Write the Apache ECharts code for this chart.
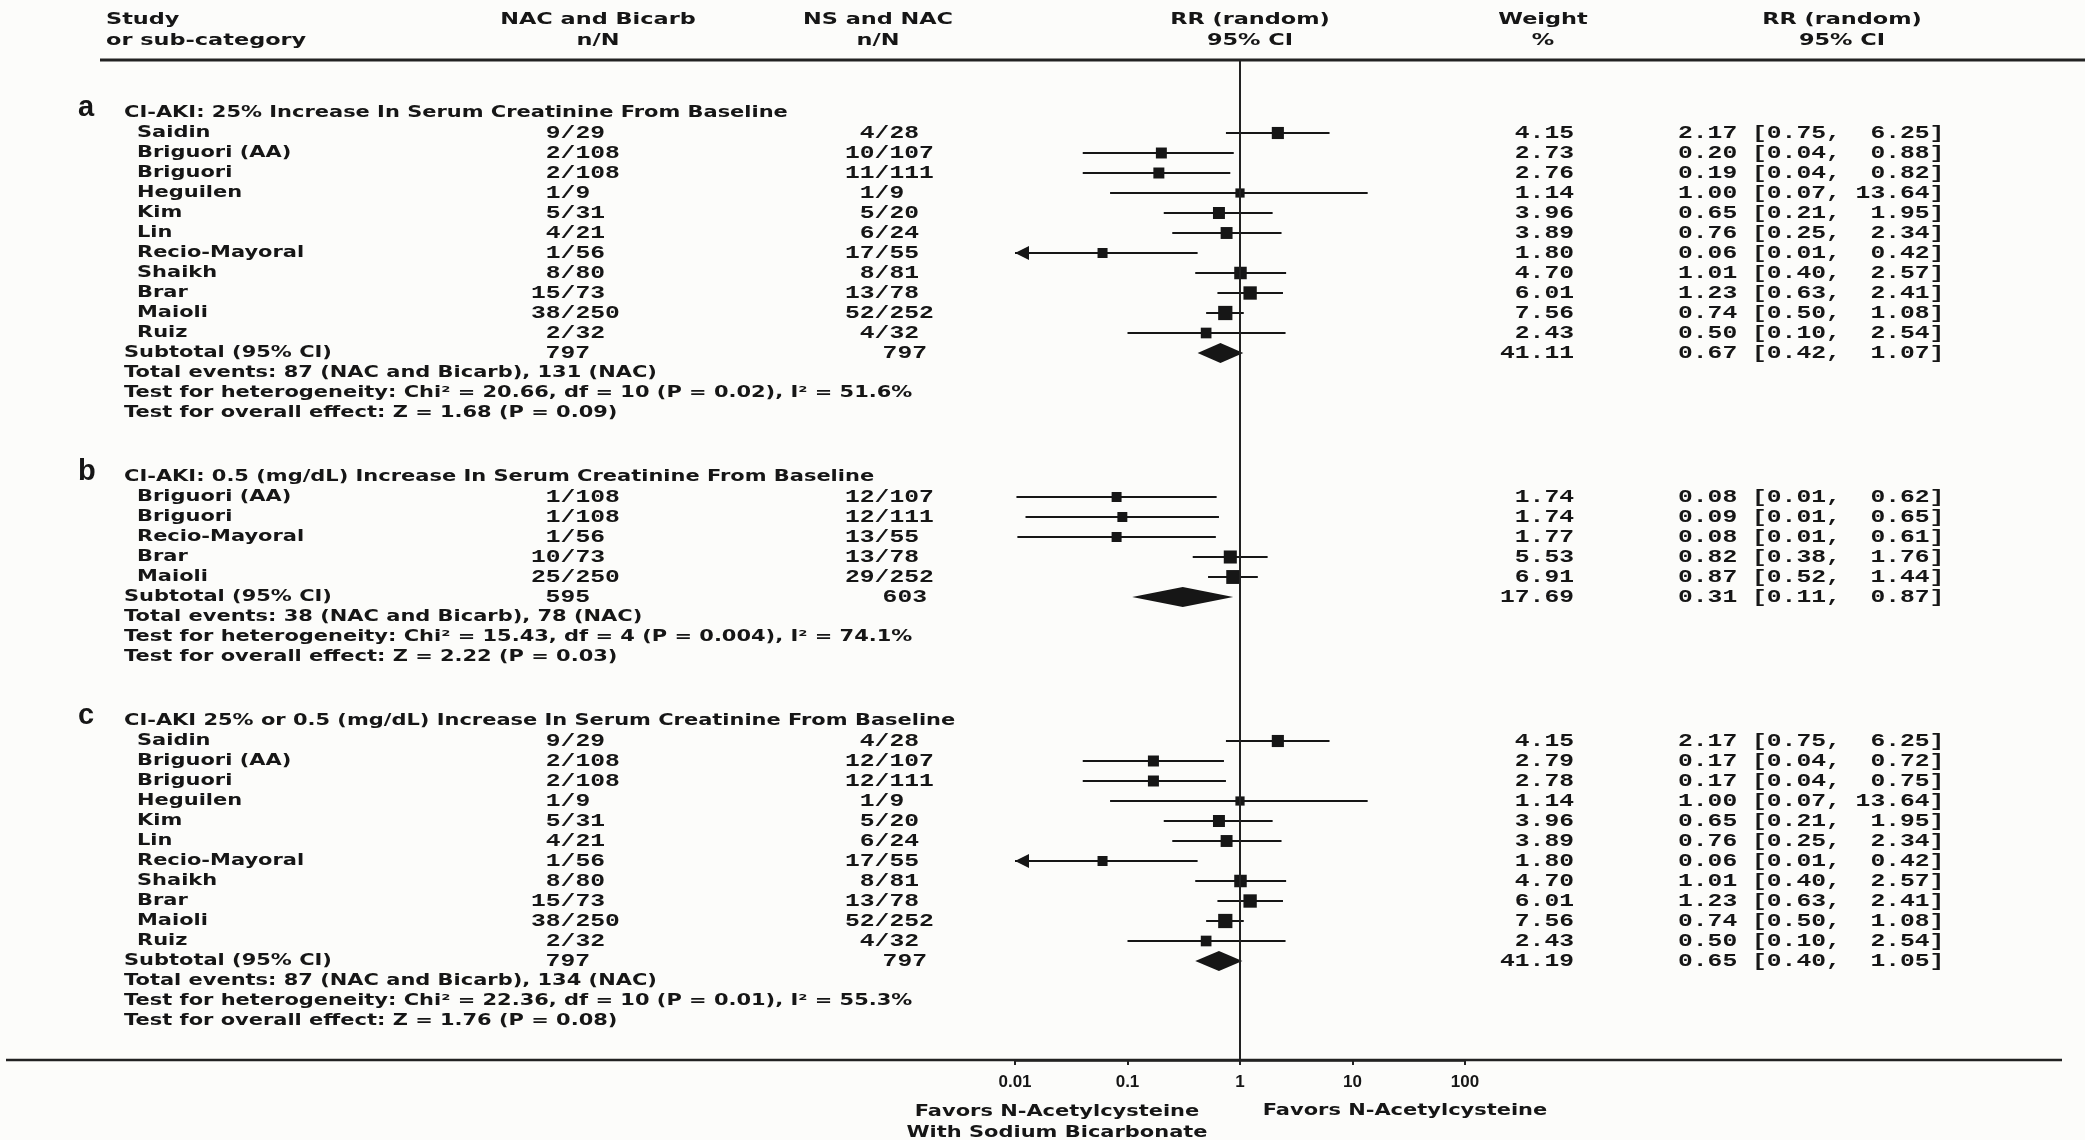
<!DOCTYPE html>
<html>
<head>
<meta charset="utf-8">
<script src="https://cdn.jsdelivr.net/npm/echarts@6/dist/echarts.min.js"></script>
<style>
  html, body { margin: 0; background: #fcfcfa; }
  #chart { width: 2085px; height: 1140px; }
</style>
</head>
<body>
<div id="chart"></div>
<script>
// ---- data ----
const studiesA = ['Saidin', 'Briguori (AA)', 'Briguori', 'Heguilen', 'Kim', 'Lin', 'Recio-Mayoral', 'Shaikh', 'Brar', 'Maioli', 'Ruiz'];
const bicarbA = ['9/29', '2/108', '2/108', '1/9', '5/31', '4/21', '1/56', '8/80', '15/73', '38/250', '2/32'];
const nsA = ['4/28', '10/107', '11/111', '1/9', '5/20', '6/24', '17/55', '8/81', '13/78', '52/252', '4/32'];
const weightA = [4.15, 2.73, 2.76, 1.14, 3.96, 3.89, 1.80, 4.70, 6.01, 7.56, 2.43];
const rrA = [2.17, 0.20, 0.19, 1.00, 0.65, 0.76, 0.06, 1.01, 1.23, 0.74, 0.50];
const loA = [0.75, 0.04, 0.04, 0.07, 0.21, 0.25, 0.0086, 0.40, 0.63, 0.50, 0.10];
const hiA = [6.25, 0.88, 0.82, 13.64, 1.95, 2.34, 0.42, 2.57, 2.41, 1.08, 2.54];
const subtotalA = { bicarb: '797', ns: '797', weight: 41.11, rr: 0.67, lo: 0.42, hi: 1.07 };
const notesA = [
  'Total events: 87 (NAC and Bicarb), 131 (NAC)',
  'Test for heterogeneity: Chi\u00b2 = 20.66, df = 10 (P = 0.02), I\u00b2 = 51.6%',
  'Test for overall effect: Z = 1.68 (P = 0.09)'
];

const studiesB = ['Briguori (AA)', 'Briguori', 'Recio-Mayoral', 'Brar', 'Maioli'];
const bicarbB = ['1/108', '1/108', '1/56', '10/73', '25/250'];
const nsB = ['12/107', '12/111', '13/55', '13/78', '29/252'];
const weightB = [1.74, 1.74, 1.77, 5.53, 6.91];
const rrB = [0.08, 0.09, 0.08, 0.82, 0.87];
const loB = [0.0103, 0.0124, 0.0105, 0.38, 0.52];
const hiB = [0.62, 0.65, 0.61, 1.76, 1.44];
const subtotalB = { bicarb: '595', ns: '603', weight: 17.69, rr: 0.31, lo: 0.11, hi: 0.87 };
const notesB = [
  'Total events: 38 (NAC and Bicarb), 78 (NAC)',
  'Test for heterogeneity: Chi\u00b2 = 15.43, df = 4 (P = 0.004), I\u00b2 = 74.1%',
  'Test for overall effect: Z = 2.22 (P = 0.03)'
];

const studiesC = ['Saidin', 'Briguori (AA)', 'Briguori', 'Heguilen', 'Kim', 'Lin', 'Recio-Mayoral', 'Shaikh', 'Brar', 'Maioli', 'Ruiz'];
const bicarbC = ['9/29', '2/108', '2/108', '1/9', '5/31', '4/21', '1/56', '8/80', '15/73', '38/250', '2/32'];
const nsC = ['4/28', '12/107', '12/111', '1/9', '5/20', '6/24', '17/55', '8/81', '13/78', '52/252', '4/32'];
const weightC = [4.15, 2.79, 2.78, 1.14, 3.96, 3.89, 1.80, 4.70, 6.01, 7.56, 2.43];
const rrC = [2.17, 0.17, 0.17, 1.00, 0.65, 0.76, 0.06, 1.01, 1.23, 0.74, 0.50];
const loC = [0.75, 0.04, 0.04, 0.07, 0.21, 0.25, 0.0086, 0.40, 0.63, 0.50, 0.10];
const hiC = [6.25, 0.72, 0.75, 13.64, 1.95, 2.34, 0.42, 2.57, 2.41, 1.08, 2.54];
const subtotalC = { bicarb: '797', ns: '797', weight: 41.19, rr: 0.65, lo: 0.40, hi: 1.05 };
const notesC = [
  'Total events: 87 (NAC and Bicarb), 134 (NAC)',
  'Test for heterogeneity: Chi\u00b2 = 22.36, df = 10 (P = 0.01), I\u00b2 = 55.3%',
  'Test for overall effect: Z = 1.76 (P = 0.08)'
];

const sectionLetters = ['a', 'b', 'c'];
const sectionTitles = [
  'CI-AKI: 25% Increase In Serum Creatinine From Baseline',
  'CI-AKI: 0.5 (mg/dL) Increase In Serum Creatinine From Baseline',
  'CI-AKI 25% or 0.5 (mg/dL) Increase In Serum Creatinine From Baseline'
];
const favorsLeft = 'Favors N-Acetylcysteine\nWith Sodium Bicarbonate';
const favorsRight = 'Favors N-Acetylcysteine';

// ---- layout ----
const SANS = '"DejaVu Sans", Verdana, sans-serif';
const TICK_FONT = '"Liberation Sans", Arial, sans-serif';
const MONO = '"Liberation Mono", "Courier New", monospace';
const INK = '#161616';
const FS = 16;
const SX_SANS = 1.31;
const SX_HEAD = 1.4;
const MONO_FS = 18;
const SX_MONO = 1.37;
const MONO_CHAR = 0.6 * MONO_FS * SX_MONO;
const sectionStart = [0, 18.2, 30.4];
const COL = {
  letter: 78, title: 124, study: 137,
  bicarbSlash: 568, nsSlash: 882, bicarbTotal: 590, nsTotal: 927,
  weightRight: 1574, rrLeft: 1678
};

const sections = [
  { studies: studiesA, bicarb: bicarbA, ns: nsA, weight: weightA, rr: rrA, lo: loA, hi: hiA, sub: subtotalA, notes: notesA },
  { studies: studiesB, bicarb: bicarbB, ns: nsB, weight: weightB, rr: rrB, lo: loB, hi: hiB, sub: subtotalB, notes: notesB },
  { studies: studiesC, bicarb: bicarbC, ns: nsC, weight: weightC, rr: rrC, lo: loC, hi: hiC, sub: subtotalC, notes: notesC }
];

const rows = [];
sections.forEach((s, si) => {
  let r = sectionStart[si];
  rows.push({ r, kind: 'title', letter: sectionLetters[si], text: sectionTitles[si] });
  s.studies.forEach((name, i) => {
    r += 1;
    rows.push({ r, kind: 'study', name, bicarb: s.bicarb[i], ns: s.ns[i],
      weight: s.weight[i], rr: s.rr[i], lo: s.lo[i], hi: s.hi[i] });
  });
  r += 1;
  rows.push(Object.assign({ r, kind: 'subtotal', name: 'Subtotal (95% CI)' }, s.sub));
  s.notes.forEach(t => { r += 1; rows.push({ r, kind: 'note', text: t }); });
});

function sansText(x, y, text, align, sx) {
  return {
    type: 'text', x, y, scaleX: sx || SX_SANS,
    style: { text, fill: INK, fontFamily: SANS, fontWeight: 'bold', fontSize: FS,
      textAlign: align || 'left', textVerticalAlign: 'middle' }
  };
}
function monoText(x, y, text, align) {
  return {
    type: 'text', x, y, scaleX: SX_MONO,
    style: { text, fill: INK, fontFamily: MONO, fontWeight: 'bold', fontSize: MONO_FS,
      textAlign: align || 'left', textVerticalAlign: 'middle' }
  };
}
function nOverN(slashX, y, s) {
  const [a, b] = s.split('/');
  const x0 = slashX - MONO_CHAR / 2;
  return [monoText(x0, y, a, 'right'), monoText(x0, y, '/' + b, 'left')];
}
function rrLabel(row) {
  return row.rr.toFixed(2) + ' [' + row.lo.toFixed(2) + ', ' + row.hi.toFixed(2).padStart(5) + ']';
}

function renderText(params, api) {
  const row = rows[api.value(2)];
  const y = api.coord([1, api.value(1)])[1];
  const kids = [];
  if (row.kind === 'title') {
    kids.push({ type: 'text', x: COL.letter, y: y - 5,
      style: { text: row.letter, fill: INK, fontFamily: TICK_FONT, fontWeight: 'bold', fontSize: 29,
        textAlign: 'left', textVerticalAlign: 'middle' } });
    kids.push(sansText(COL.title, y, row.text));
  } else if (row.kind === 'study') {
    kids.push(sansText(COL.study, y, row.name));
    kids.push(...nOverN(COL.bicarbSlash, y, row.bicarb));
    kids.push(...nOverN(COL.nsSlash, y, row.ns));
    kids.push(monoText(COL.weightRight, y, row.weight.toFixed(2), 'right'));
    kids.push(monoText(COL.rrLeft, y, rrLabel(row)));
  } else if (row.kind === 'subtotal') {
    kids.push(sansText(COL.title, y, row.name));
    kids.push(monoText(COL.bicarbTotal, y, row.bicarb, 'right'));
    kids.push(monoText(COL.nsTotal, y, row.ns, 'right'));
    kids.push(monoText(COL.weightRight, y, row.weight.toFixed(2), 'right'));
    kids.push(monoText(COL.rrLeft, y, rrLabel(row)));
  } else {
    kids.push(sansText(COL.title, y, row.text));
  }
  return { type: 'group', children: kids };
}

const X_MIN = 0.01, X_MAX = 100;
function renderMarks(params, api) {
  const rr = api.value(0), lo = api.value(1), hi = api.value(2), r = api.value(3);
  const w = api.value(4), kind = api.value(5);
  const y = api.coord([1, r])[1];
  const xc = api.coord([rr, r])[0];
  const xl = api.coord([Math.max(lo, X_MIN), r])[0];
  const xh = api.coord([Math.min(hi, X_MAX), r])[0];
  if (kind === 1) {
    return {
      type: 'polygon',
      shape: { points: [[xl, y], [xc, y - 10], [xh, y], [xc, y + 10]] },
      style: { fill: INK }
    };
  }
  const side = 3 * Math.sqrt(w) + 6;
  const kids = [
    { type: 'line', shape: { x1: xl, y1: y, x2: xh, y2: y }, style: { stroke: INK, lineWidth: 2 } },
    { type: 'rect', shape: { x: xc - side / 2, y: y - side / 2, width: side, height: side }, style: { fill: INK } }
  ];
  if (lo < X_MIN) {
    kids.push({ type: 'polygon', shape: { points: [[xl, y], [xl + 14, y - 7], [xl + 14, y + 7]] }, style: { fill: INK } });
  }
  return { type: 'group', children: kids };
}

const textData = rows.map((row, i) => [1, row.r, i]);
const markData = rows.filter(row => row.kind === 'study' || row.kind === 'subtotal')
  .map(row => [row.rr, row.lo, row.hi, row.r, row.weight, row.kind === 'subtotal' ? 1 : 0]);

const headers = [
  { x: 106, align: 'left', lines: ['Study', 'or sub-category'] },
  { x: 598, align: 'center', lines: ['NAC and Bicarb', 'n/N'] },
  { x: 878, align: 'center', lines: ['NS and NAC', 'n/N'] },
  { x: 1250, align: 'center', lines: ['RR (random)', '95% CI'] },
  { x: 1543, align: 'center', lines: ['Weight', '%'] },
  { x: 1842, align: 'center', lines: ['RR (random)', '95% CI'] }
];
const graphics = [];
headers.forEach(h => {
  h.lines.forEach((t, i) => graphics.push(sansText(h.x, 20 + i * 21, t, h.align, SX_HEAD)));
});
graphics.push({ type: 'line', shape: { x1: 100, y1: 60, x2: 2085, y2: 60 }, style: { stroke: '#222', lineWidth: 3 } });
graphics.push({ type: 'line', shape: { x1: 6, y1: 1060, x2: 2062, y2: 1060 }, style: { stroke: '#222', lineWidth: 2.5 } });
graphics.push({
  type: 'text', x: 1057, y: 1101, scaleX: SX_SANS,
  style: { text: favorsLeft, fill: INK, fontFamily: SANS, fontWeight: 'bold', fontSize: FS,
    textAlign: 'center', textVerticalAlign: 'top', lineHeight: 21 }
});
graphics.push(sansText(1405, 1111, favorsRight, 'center'));

const chart = echarts.init(document.getElementById('chart'));
chart.setOption({
  backgroundColor: '#fcfcfa',
  animation: false,
  grid: { left: 1015, width: 450, top: 60, height: 1000 },
  xAxis: {
    type: 'log', logBase: 10, min: X_MIN, max: X_MAX,
    axisLine: { show: true, onZero: false, lineStyle: { color: '#222', width: 2.5 } },
    axisTick: { show: true, length: 5, lineStyle: { color: '#222', width: 2 } },
    axisLabel: {
      color: INK, fontFamily: TICK_FONT, fontWeight: 'bold', fontSize: 17, margin: 14,
      formatter: v => String(+Number(v).toPrecision(3))
    },
    splitLine: { show: false }
  },
  yAxis: {
    type: 'value', inverse: true, min: -2.65, max: 47.35,
    axisLine: { show: false }, axisTick: { show: false }, axisLabel: { show: false },
    splitLine: { show: false }
  },
  graphic: graphics,
  series: [
    {
      type: 'custom', name: 'marks', renderItem: renderMarks, data: markData,
      encode: { x: [0, 1, 2], y: 3 }, clip: false, silent: true,
      markLine: {
        silent: true, symbol: 'none', label: { show: false },
        lineStyle: { color: '#222', width: 2, type: 'solid' },
        data: [{ xAxis: 1 }]
      }
    },
    {
      type: 'custom', name: 'text', renderItem: renderText, data: textData,
      encode: { x: 0, y: 1 }, clip: false, silent: true
    }
  ]
});
</script>
</body>
</html>
